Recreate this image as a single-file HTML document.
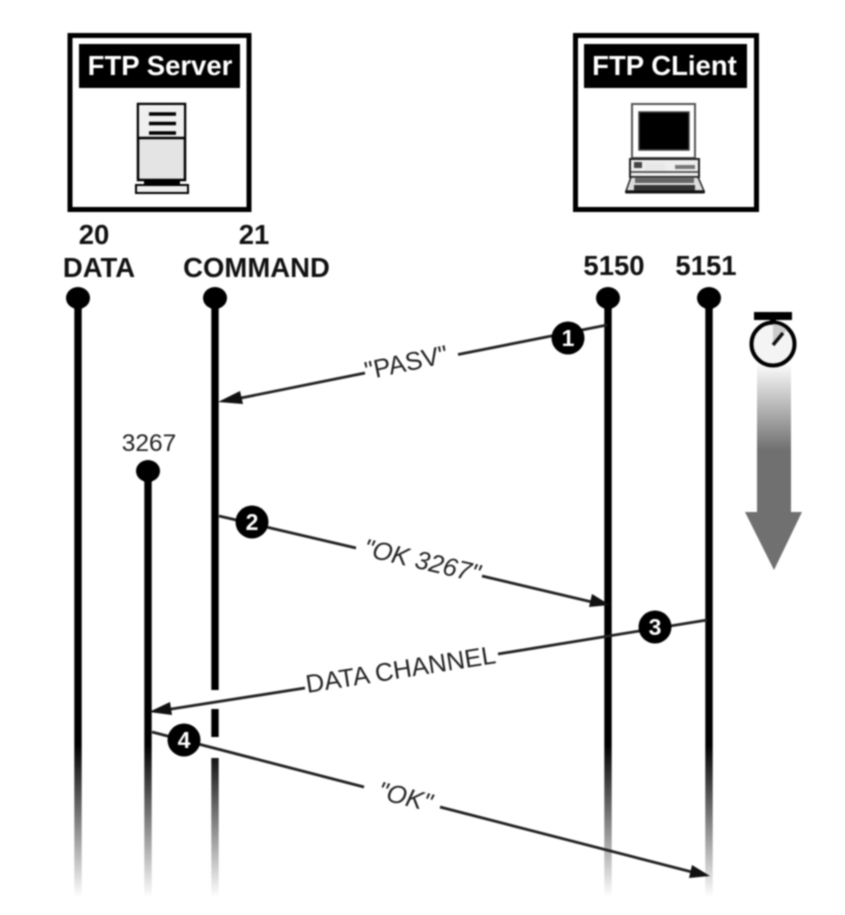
<!DOCTYPE html>
<html><head><meta charset="utf-8"><style>
html,body{margin:0;padding:0;background:#fff;width:845px;height:915px;overflow:hidden}
svg{display:block;filter:blur(.8px)}
text{font-family:"Liberation Sans",sans-serif}
.b{font-weight:bold;font-size:27.5px;fill:#111;text-anchor:middle}
.w{font-weight:bold;font-size:27.5px;fill:#fff;text-anchor:middle}
.l{font-size:25.5px;fill:#222;text-anchor:middle}
.n{font-weight:bold;font-size:23px;fill:#fff;text-anchor:middle}
</style></head><body>
<svg width="845" height="915" viewBox="0 0 845 915" xmlns="http://www.w3.org/2000/svg">
<defs>
<linearGradient id="f" gradientUnits="userSpaceOnUse" x1="0" y1="745" x2="0" y2="897"><stop offset="0" stop-color="#000"/><stop offset="1" stop-color="#000" stop-opacity="0"/></linearGradient>
<linearGradient id="a" gradientUnits="userSpaceOnUse" x1="0" y1="362" x2="0" y2="450"><stop offset="0" stop-color="#fff"/><stop offset="1" stop-color="#707070"/></linearGradient>
</defs>
<!-- server -->
<rect x="70" y="35.500" width="179" height="174" fill="#fff" stroke="#000" stroke-width="5"/>
<rect x="79" y="44" width="161" height="44" fill="#000"/>
<text class="w" x="160" y="75">FTP Server</text>
<rect x="138" y="104" width="47" height="76" fill="#e4e4e4" stroke="#000" stroke-width="2.500"/>
<rect x="139" y="105" width="45" height="33" fill="#f0f0f0"/>
<line x1="138" y1="138" x2="185" y2="138" stroke="#000" stroke-width="2.500"/>
<path d="M149 114h27M149 123.500h27M149 133h27" stroke="#000" stroke-width="3.500"/>
<rect x="144" y="180" width="36" height="4" fill="#000"/>
<rect x="136" y="185" width="52" height="8" fill="#eee" stroke="#000" stroke-width="2"/>
<!-- client -->
<rect x="575.500" y="35.500" width="181" height="174" fill="#fff" stroke="#000" stroke-width="5"/>
<rect x="584" y="44" width="163" height="44" fill="#000"/>
<text class="w" x="664.500" y="75">FTP CLient</text>
<rect x="632" y="104" width="63" height="54" fill="#fff" stroke="#555" stroke-width="2"/>
<rect x="639" y="112" width="50" height="38" fill="#000" stroke="#444" stroke-width="1.500"/>
<rect x="630" y="159" width="69" height="18" fill="#eee" stroke="#222" stroke-width="2"/>
<rect x="634" y="162" width="8" height="6" fill="#444"/>
<rect x="645" y="163" width="20" height="8" fill="#e8e8e8"/>
<rect x="675" y="165" width="20" height="4" fill="#777"/>
<line x1="630" y1="172" x2="699" y2="172" stroke="#333" stroke-width="1.500"/>
<path d="M631 177L626 191H704L698 177Z" fill="#ddd" stroke="#222" stroke-width="1.500"/>
<rect x="635" y="178" width="59" height="5" fill="#666"/>
<rect x="634" y="185" width="61" height="6" fill="#333"/>
<rect x="625" y="190.500" width="80" height="3" rx="1.500" fill="#111"/>
<!-- labels -->
<text class="b" x="94" y="244">20</text>
<text class="b" x="99" y="277">DATA</text>
<text class="b" x="254" y="244">21</text>
<text class="b" x="256.500" y="277">COMMAND</text>
<text class="b" x="614" y="275">5150</text>
<text class="b" x="706" y="275">5151</text>
<text x="149" y="451" font-size="24.500" fill="#222" text-anchor="middle">3267</text>
<!-- lifelines -->
<g fill="url(#f)">
<rect x="74.300" y="298" width="7.400" height="600"/>
<rect x="144.300" y="471" width="7.400" height="427"/>
<path d="M211.300 298h7.400v392h-7.400zM211.300 709h7.400v28h-7.400zM211.300 758h7.400v140h-7.400z"/>
<rect x="604.300" y="298" width="7.400" height="600"/>
<rect x="705.300" y="298" width="7.400" height="600"/>
</g>
<g fill="#000">
<ellipse cx="78" cy="298" rx="12" ry="11"/><path d="M70 304L78 313L86 304Z"/>
<ellipse cx="215" cy="298" rx="12" ry="11"/><path d="M207 304L215 313L223 304Z"/>
<ellipse cx="608" cy="298" rx="12" ry="11"/><path d="M600 304L608 313L616 304Z"/>
<ellipse cx="709" cy="298" rx="12" ry="11"/><path d="M701 304L709 313L717 304Z"/>
<ellipse cx="148" cy="471" rx="12" ry="11"/><path d="M140 477L148 486L156 477Z"/>
</g>
<!-- connectors -->
<g stroke="#222" stroke-width="2.800" fill="none">
<path d="M607 325L458 354.500M365 373L236 399"/>
<path d="M219 516L356 548M482 576L592 602"/>
<path d="M707 620L498 654M305 688L165 710"/>
<path d="M152 732L364 787M440 807L692 872"/>
</g>
<g fill="#111">
<path d="M218 402L240 391L243 404Z"/>
<path d="M610 605L589 607L592 594Z"/>
<path d="M149 712L170 702L172 715Z"/>
<path d="M710 876L689 878L692 865Z"/>
</g>
<!-- numbered -->
<g fill="#000">
<circle cx="568" cy="338" r="16.500"/><circle cx="252" cy="522" r="16.500"/>
<circle cx="655" cy="627" r="16.500"/><circle cx="184" cy="740" r="16.500"/>
</g>
<text class="n" x="568" y="346">1</text>
<text class="n" x="252" y="530">2</text>
<text class="n" x="655" y="635">3</text>
<text class="n" x="184" y="748">4</text>
<!-- line labels -->
<text class="l" transform="translate(408 371) rotate(-12)" x="0" y="0">"PASV"</text>
<text class="l" style="font-style:italic" transform="translate(420 569) rotate(13)" x="0" y="0">"OK 3267"</text>
<text class="l" transform="translate(402 678) rotate(-9)" x="0" y="0">DATA CHANNEL</text>
<text class="l" style="font-style:italic" transform="translate(403 805) rotate(14)" x="0" y="0">"OK"</text>
<!-- timer -->
<rect x="757" y="365" width="34" height="148" fill="url(#a)"/>
<path d="M745 512H802L774 570Z" fill="#707070"/>
<rect x="754" y="312" width="38" height="8" fill="#000"/>
<rect x="770" y="319" width="6" height="6" fill="#000"/>
<circle cx="773" cy="344" r="21.500" fill="#f4f4f4" stroke="#000" stroke-width="4"/>
<path d="M773 344V324A20 20 0 0 1 787 330Z" fill="#ccc"/>
<line x1="773" y1="345" x2="783" y2="333" stroke="#111" stroke-width="3.500"/>
</svg>
</body></html>
